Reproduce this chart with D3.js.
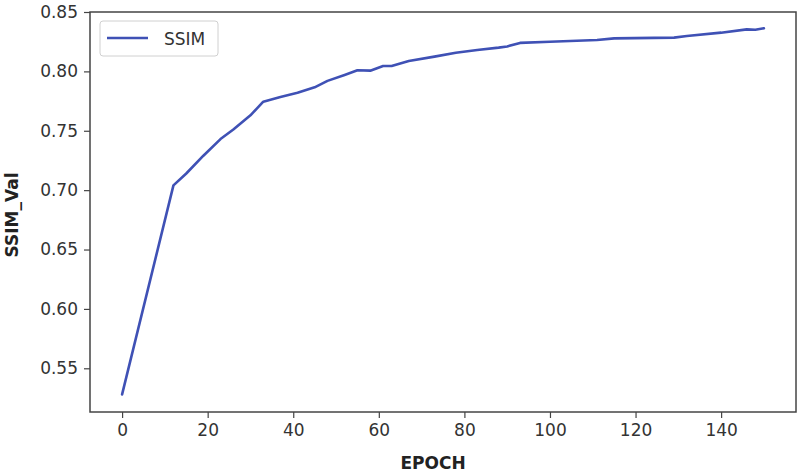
<!DOCTYPE html>
<html>
<head>
<meta charset="utf-8">
<script src="https://cdn.jsdelivr.net/npm/d3@7"></script>
<style>
  body { margin: 0; background: #fff; }
  text { font-family: "DejaVu Sans", sans-serif; }
</style>
</head>
<body>
<div id="chart"></div>
<script>
// Values
const epochs = [0, 12, 15, 19, 23, 26, 30, 33, 37, 41, 45, 48, 52, 55, 58, 61, 63, 67, 73, 78, 83, 88, 90, 93, 100, 111, 115, 129, 132, 140, 146, 148, 150];
const ssimVal = [0.528, 0.704, 0.714, 0.729, 0.743, 0.751, 0.763, 0.7745, 0.7785, 0.782, 0.7866, 0.792, 0.797, 0.801, 0.8006, 0.8045, 0.8045, 0.8087, 0.8124, 0.8157, 0.818, 0.820, 0.821, 0.824, 0.825, 0.8264, 0.8278, 0.8284, 0.8298, 0.8326, 0.8354, 0.835, 0.8363];
const xTicks = [0, 20, 40, 60, 80, 100, 120, 140];
const yTicks = [0.55, 0.60, 0.65, 0.70, 0.75, 0.80, 0.85];
const seriesName = 'SSIM';

const width = 798, height = 474;
const plot = { left: 90, right: 796, top: 12, bottom: 412 };
const lineColor = '#3f51b5';
const axisColor = '#444';
const textColor = '#333';

const svg = d3.select('#chart').append('svg')
  .attr('width', width)
  .attr('height', height);

svg.append('rect').attr('width', width).attr('height', height).attr('fill', '#fff');

const x = d3.scaleLinear().domain([-7.5, 157.5]).range([plot.left, plot.right]);
const y = d3.scaleLinear().domain([0.5132, 0.85]).range([plot.bottom, plot.top]);

// Axes
const xAxis = svg.append('g')
  .attr('transform', `translate(0,${plot.bottom})`)
  .call(d3.axisBottom(x).tickValues(xTicks).tickSize(6).tickPadding(6).tickFormat(d3.format('d')));
const yAxis = svg.append('g')
  .attr('transform', `translate(${plot.left},0)`)
  .call(d3.axisLeft(y).tickValues(yTicks).tickSize(6).tickPadding(6).tickFormat(d3.format('.2f')));

[xAxis, yAxis].forEach(g => {
  g.select('.domain').remove();
  g.selectAll('.tick line').attr('stroke', axisColor).attr('stroke-width', 1.2);
  g.selectAll('.tick text')
    .style('font-size', '17px')
    .attr('fill', textColor);
});

// Frame
svg.append('rect')
  .attr('x', plot.left)
  .attr('y', plot.top)
  .attr('width', plot.right - plot.left)
  .attr('height', plot.bottom - plot.top)
  .attr('fill', 'none')
  .attr('stroke', axisColor)
  .attr('stroke-width', 1.5);

// Line
const data = epochs.map((e, i) => ({ e, v: ssimVal[i] }));
svg.append('path')
  .datum(data)
  .attr('fill', 'none')
  .attr('stroke', lineColor)
  .attr('stroke-width', 2.6)
  .attr('stroke-linejoin', 'round')
  .attr('stroke-linecap', 'round')
  .attr('d', d3.line().x(d => x(d.e)).y(d => y(d.v)));

// Axis labels
svg.append('text')
  .attr('x', 433)
  .attr('y', 469)
  .attr('text-anchor', 'middle')
  .style('font-size', '17px')
  .style('font-weight', 'bold')
  .attr('fill', '#222')
  .text('EPOCH');

svg.append('text')
  .attr('transform', 'translate(18,215) rotate(-90)')
  .attr('text-anchor', 'middle')
  .style('font-size', '17px')
  .style('font-weight', 'bold')
  .attr('fill', '#222')
  .text('SSIM_Val');

// Legend
const legend = svg.append('g');
legend.append('rect')
  .attr('x', 100).attr('y', 21)
  .attr('width', 118).attr('height', 35)
  .attr('rx', 3)
  .attr('fill', '#fff')
  .attr('stroke', '#d0d0d0');
legend.append('line')
  .attr('x1', 107).attr('x2', 148)
  .attr('y1', 38).attr('y2', 38)
  .attr('stroke', lineColor)
  .attr('stroke-width', 2.6);
legend.append('text')
  .attr('x', 164).attr('y', 45)
  .style('font-size', '17px')
  .attr('fill', textColor)
  .text(seriesName);
</script>
</body>
</html>
